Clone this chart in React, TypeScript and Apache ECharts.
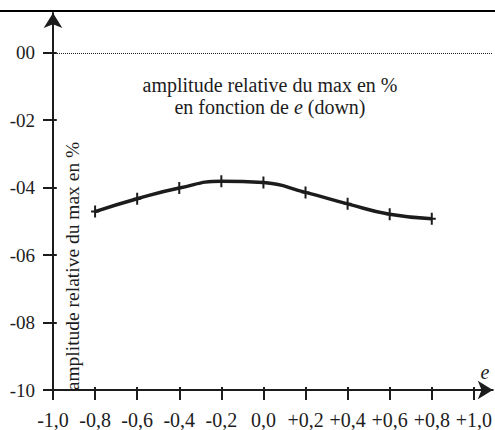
import React, { useEffect, useRef } from 'react';
import * as echarts from 'echarts';

const eValues = [-0.8, -0.6, -0.4, -0.2, 0, 0.2, 0.4, 0.6, 0.8];
const amplitudes = [-4.71, -4.33, -4.01, -3.81, -3.85, -4.14, -4.48, -4.79, -4.92];
const xTickValues = [-1, -0.8, -0.6, -0.4, -0.2, 0, 0.2, 0.4, 0.6, 0.8, 1];
const yTickValues = [-10, -8, -6, -4, -2, 0];
const titleLine1 = 'amplitude relative du max en %';
const titleLine2 = 'en fonction de {i|e} (down)';
const yAxisTitle = 'amplitude relative du max en %';
const xAxisTitle = 'e';

const INK = '#1c1c1c';
const FONT = 'Liberation Serif';

const fmtX = (v: number) => {
  if (Math.abs(v) < 1e-9) return '0,0';
  const s = Math.abs(v).toFixed(1).replace('.', ',');
  return (v > 0 ? '+' : '-') + s;
};
const fmtY = (v: number) => {
  if (Math.abs(v) < 1e-9) return '00';
  return '-' + String(Math.round(Math.abs(v))).padStart(2, '0');
};

export default function App() {
  const ref = useRef<HTMLDivElement>(null);
  useEffect(() => {
    if (!ref.current) return;
    const chart = echarts.init(ref.current, undefined, { renderer: 'svg' });
    const crossPath = 'path://M-1,-6H1V-1H4V1H1V6H-1V1H-4V-1H-1Z';
    chart.setOption({
      animation: false,
      backgroundColor: '#ffffff',
      textStyle: { fontFamily: FONT },
      grid: { left: 53, right: 2, top: 13, bottom: 37, containLabel: false },
      xAxis: [
        {
          type: 'value',
          min: -1,
          max: 1.09,
          position: 'bottom',
          axisLine: {
            show: true,
            onZero: false,
            symbol: ['none', 'arrow'],
            symbolSize: [14, 15],
            lineStyle: { color: INK, width: 2 },
          },
          axisTick: {
            show: true,
            length: 10,
            customValues: xTickValues,
            lineStyle: { color: INK, width: 2 },
          },
          axisLabel: {
            show: true,
            customValues: xTickValues,
            formatter: fmtX,
            margin: 20,
            color: INK,
            fontFamily: FONT,
            fontSize: 20,
          },
          splitLine: { show: false },
        },
        {
          type: 'value',
          min: -1,
          max: 1.09,
          position: 'top',
          offset: -380,
          axisLine: { show: false, onZero: false },
          axisTick: {
            show: true,
            length: 6,
            customValues: xTickValues,
            lineStyle: { color: INK, width: 2 },
          },
          axisLabel: { show: false },
          splitLine: { show: false },
        },
      ],
      yAxis: [
        {
          type: 'value',
          min: -10,
          max: 1.18,
          position: 'left',
          axisLine: {
            show: true,
            onZero: false,
            symbol: ['none', 'arrow'],
            symbolSize: [14, 15],
            lineStyle: { color: INK, width: 2 },
          },
          axisTick: {
            show: true,
            length: 10,
            customValues: yTickValues,
            lineStyle: { color: INK, width: 2 },
          },
          axisLabel: {
            show: true,
            customValues: yTickValues,
            formatter: fmtY,
            margin: 18,
            color: INK,
            fontFamily: FONT,
            fontSize: 19,
          },
          splitLine: { show: false },
        },
        {
          type: 'value',
          min: -10,
          max: 1.18,
          position: 'right',
          offset: -440,
          axisLine: { show: false, onZero: false },
          axisTick: {
            show: true,
            length: 4,
            customValues: yTickValues,
            lineStyle: { color: INK, width: 2 },
          },
          axisLabel: { show: false },
          splitLine: { show: false },
        },
      ],
      series: [
        {
          type: 'line',
          xAxisIndex: 0,
          yAxisIndex: 0,
          data: eValues.map((e, i) => [e, amplitudes[i]]),
          smooth: 0.5,
          symbol: crossPath,
          symbolSize: [8, 12],
          showSymbol: true,
          lineStyle: { color: INK, width: 3.5 },
          itemStyle: { color: INK },
          z: 3,
          markLine: {
            silent: true,
            symbol: 'none',
            label: { show: false },
            lineStyle: { color: INK, type: 'dotted', width: 1 },
            data: [{ yAxis: 0 }],
          },
        },
      ],
      graphic: [
        {
          type: 'rect',
          shape: { x: 0, y: 10, width: 495, height: 2 },
          style: { fill: '#000' },
        },
        {
          type: 'text',
          x: 270,
          y: 85,
          style: {
            text: titleLine1,
            fill: INK,
            fontFamily: FONT,
            fontSize: 20,
            align: 'center',
            verticalAlign: 'middle',
          },
        },
        {
          type: 'text',
          x: 270,
          y: 107,
          style: {
            text: titleLine2,
            fill: INK,
            fontFamily: FONT,
            fontSize: 20,
            align: 'center',
            verticalAlign: 'middle',
            rich: {
              i: { fontStyle: 'italic', fontFamily: FONT, fontSize: 20, fill: INK },
            },
          },
        },
        {
          type: 'text',
          x: 72,
          y: 266,
          rotation: Math.PI / 2,
          style: {
            text: yAxisTitle,
            fill: INK,
            fontFamily: FONT,
            fontSize: 19.5,
            align: 'center',
            verticalAlign: 'middle',
          },
        },
        {
          type: 'text',
          x: 485,
          y: 372,
          style: {
            text: xAxisTitle,
            fill: INK,
            fontFamily: FONT,
            fontStyle: 'italic',
            fontSize: 20,
            align: 'center',
            verticalAlign: 'middle',
          },
        },
      ],
    });
    return () => chart.dispose();
  }, []);
  return (
    <div
      ref={ref}
      style={{ position: 'fixed', left: 0, top: 0, width: 495, height: 430 }}
    />
  );
}
